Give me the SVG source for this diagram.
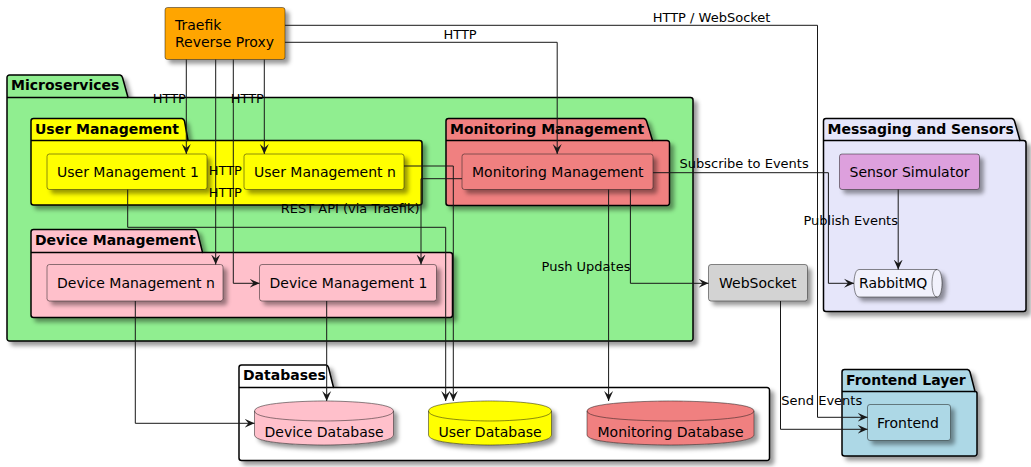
<svg xmlns="http://www.w3.org/2000/svg" width="1031" height="467" viewBox="0 0 1031 467">
<defs>
<filter id="sh" x="-0.2" y="-0.2" width="1.5" height="1.5">
<feGaussianBlur in="SourceAlpha" stdDeviation="2" result="b"/>
<feColorMatrix in="b" type="matrix" values="0 0 0 0 0  0 0 0 0 0  0 0 0 0 0  0 0 0 0.4 0" result="b2"/>
<feOffset in="b2" dx="4" dy="4" result="b3"/>
<feMerge><feMergeNode in="b3"/><feMergeNode in="SourceGraphic"/></feMerge>
</filter>
<marker id="ah" viewBox="0 0 10 10" refX="10" refY="5" markerWidth="10" markerHeight="10" markerUnits="userSpaceOnUse" orient="auto">
<path d="M0,0.5 L10,5 L0,9.5 L4,5 Z" fill="#181818"/>
</marker>
<style>
text{font-family:'DejaVu Sans','Liberation Sans',sans-serif;fill:#000}
.pkg{stroke:#000;stroke-width:1.5;filter:url(#sh)}
.pl{fill:none;stroke:#000;stroke-width:1.5}
.pt{font-size:14px;font-weight:bold}
.box{stroke:#181818;stroke-width:0.5;filter:url(#sh)}
.bt{font-size:14px}
.lt{font-size:13px}
.edge{fill:none;stroke:#181818;stroke-width:1;marker-end:url(#ah)}
.inner{fill:none;stroke:#181818;stroke-width:0.5}
</style>
</defs>
<rect width="1031" height="467" fill="#fff"/>

<g id="pkg-microservices">
<path class="pkg" fill="#90EE90" d="M9.5,75 L120,75 A3.75,3.75 0 0 1 122.5,77.5 L128,97.5 L690.5,97.5 A2.5,2.5 0 0 1 693,100 L693,338.5 A2.5,2.5 0 0 1 690.5,341 L9.5,341 A2.5,2.5 0 0 1 7,338.5 L7,77.5 A2.5,2.5 0 0 1 9.5,75 Z"/>
<path class="pl" d="M7,97.5 L128,97.5"/>
<text class="pt" x="11" y="90">Microservices</text>
</g>
<g id="pkg-user-management">
<path class="pkg" fill="#FFFF00" d="M33.5,118.5 L182,118.5 A3.75,3.75 0 0 1 184.5,121 L188,140.5 L419.5,140.5 A2.5,2.5 0 0 1 422,143 L422,202.5 A2.5,2.5 0 0 1 419.5,205 L33.5,205 A2.5,2.5 0 0 1 31,202.5 L31,121 A2.5,2.5 0 0 1 33.5,118.5 Z"/>
<path class="pl" d="M31,140.5 L188,140.5"/>
<text class="pt" x="35" y="133.5">User Management</text>
</g>
<g id="pkg-monitoring-management">
<path class="pkg" fill="#F08080" d="M448.5,118.5 L644,118.5 A3.75,3.75 0 0 1 646.5,121 L652.5,140.5 L667,140.5 A2.5,2.5 0 0 1 669.5,143 L669.5,203 A2.5,2.5 0 0 1 667,205.5 L448.5,205.5 A2.5,2.5 0 0 1 446,203 L446,121 A2.5,2.5 0 0 1 448.5,118.5 Z"/>
<path class="pl" d="M446,140.5 L652.5,140.5"/>
<text class="pt" x="450" y="133.5">Monitoring Management</text>
</g>
<g id="pkg-device-management">
<path class="pkg" fill="#FFC0CB" d="M33.5,229.5 L195,229.5 A3.75,3.75 0 0 1 197.5,232 L202.5,252.5 L450,252.5 A2.5,2.5 0 0 1 452.5,255 L452.5,315 A2.5,2.5 0 0 1 450,317.5 L33.5,317.5 A2.5,2.5 0 0 1 31,315 L31,232 A2.5,2.5 0 0 1 33.5,229.5 Z"/>
<path class="pl" d="M31,252.5 L202.5,252.5"/>
<text class="pt" x="35" y="244.5">Device Management</text>
</g>
<g id="pkg-messaging">
<path class="pkg" fill="#E6E6FA" d="M826,118.5 L1012,118.5 A3.75,3.75 0 0 1 1014.5,121 L1020,140.5 L1023.5,140.5 A2.5,2.5 0 0 1 1026,143 L1026,309 A2.5,2.5 0 0 1 1023.5,311.5 L826,311.5 A2.5,2.5 0 0 1 823.5,309 L823.5,121 A2.5,2.5 0 0 1 826,118.5 Z"/>
<path class="pl" d="M823.5,140.5 L1020,140.5"/>
<text class="pt" x="827.5" y="133.5">Messaging and Sensors</text>
</g>
<g id="pkg-databases">
<path class="pkg" fill="#FFFFFF" d="M241.5,365 L326,365 A3.75,3.75 0 0 1 328.5,367.5 L333.5,387.5 L767,387.5 A2.5,2.5 0 0 1 769.5,390 L769.5,458 A2.5,2.5 0 0 1 767,460.5 L241.5,460.5 A2.5,2.5 0 0 1 239,458 L239,367.5 A2.5,2.5 0 0 1 241.5,365 Z"/>
<path class="pl" d="M239,387.5 L333.5,387.5"/>
<text class="pt" x="243" y="379.5">Databases</text>
</g>
<g id="pkg-frontend-layer">
<path class="pkg" fill="#ADD8E6" d="M844.5,369.5 L967.5,369.5 A3.75,3.75 0 0 1 970,372 L975,391.5 A2,2 0 0 1 977,393.5 L977,453.5 A2.5,2.5 0 0 1 974.5,456 L844.5,456 A2.5,2.5 0 0 1 842,453.5 L842,372 A2.5,2.5 0 0 1 844.5,369.5 Z"/>
<path class="pl" d="M842,391.5 L975,391.5"/>
<text class="pt" x="846" y="385">Frontend Layer</text>
</g>

<g id="traefik">
<rect class="box" x="165" y="7.5" width="120" height="52" rx="2.5" fill="#FFA500"/>
<text class="bt" x="175" y="30">Traefik</text>
<text class="bt" x="175" y="46.5">Reverse Proxy</text>
</g>
<g id="user-management-1">
<rect class="box" x="47" y="154" width="160" height="35.5" rx="2.5" fill="#FFFF00"/>
<text class="bt" x="57" y="176.5">User Management 1</text>
</g>
<g id="user-management-n">
<rect class="box" x="244" y="154" width="160" height="35.5" rx="2.5" fill="#FFFF00"/>
<text class="bt" x="254" y="176.5">User Management n</text>
</g>
<g id="monitoring-management">
<rect class="box" x="462" y="154" width="191" height="35.5" rx="2.5" fill="#F08080"/>
<text class="bt" x="472" y="176.5">Monitoring Management</text>
</g>
<g id="device-management-n">
<rect class="box" x="47" y="264.5" width="176" height="36.5" rx="2.5" fill="#FFC0CB"/>
<text class="bt" x="57" y="287.5">Device Management n</text>
</g>
<g id="device-management-1">
<rect class="box" x="259.5" y="264.5" width="177" height="36.5" rx="2.5" fill="#FFC0CB"/>
<text class="bt" x="269.5" y="287.5">Device Management 1</text>
</g>
<g id="sensor-simulator">
<rect class="box" x="839.5" y="154" width="140" height="35.5" rx="2.5" fill="#DDA0DD"/>
<text class="bt" x="849.5" y="176.5">Sensor Simulator</text>
</g>
<g id="rabbitmq">
<path class="box" fill="#F1F1FC" d="M859,269.5 L937,269.5 C942,269.5 942,283.25 942,283.25 C942,283.25 942,297 937,297 L859,297 C854,297 854,283.25 854,283.25 C854,283.25 854,269.5 859,269.5 Z"/>
<path class="inner" d="M937,269.5 C932,269.5 932,283.25 932,283.25 C932,283.25 932,297 937,297"/>
<text class="bt" x="859" y="288">RabbitMQ</text>
</g>
<g id="websocket">
<rect class="box" x="708.5" y="264.5" width="99" height="36.5" rx="2.5" fill="#D3D3D3"/>
<text class="bt" x="719" y="287.5">WebSocket</text>
</g>
<g id="frontend">
<rect class="box" x="867.5" y="404.5" width="83" height="36" rx="2.5" fill="#ADD8E6"/>
<text class="bt" x="877" y="427.5">Frontend</text>
</g>
<g id="device-database">
<path class="box" fill="#FFC0CB" d="M254.5,411 C254.5,401 324,401 324,401 C324,401 393.5,401 393.5,411 L393.5,435 C393.5,445 324,445 324,445 C324,445 254.5,445 254.5,435 Z"/>
<path class="inner" d="M254.5,411 C254.5,421 324,421 324,421 C324,421 393.5,421 393.5,411"/>
<text class="bt" x="264.5" y="437">Device Database</text>
</g>
<g id="user-database">
<path class="box" fill="#FFFF00" d="M428.5,411 C428.5,401 490,401 490,401 C490,401 551.5,401 551.5,411 L551.5,435 C551.5,445 490,445 490,445 C490,445 428.5,445 428.5,435 Z"/>
<path class="inner" d="M428.5,411 C428.5,421 490,421 490,421 C490,421 551.5,421 551.5,411"/>
<text class="bt" x="438.5" y="437">User Database</text>
</g>
<g id="monitoring-database">
<path class="box" fill="#F08080" d="M587,411 C587,401 670.5,401 670.5,401 C670.5,401 754,401 754,411 L754,435 C754,445 670.5,445 670.5,445 C670.5,445 587,445 587,435 Z"/>
<path class="inner" d="M587,411 C587,421 670.5,421 670.5,421 C670.5,421 754,421 754,411"/>
<text class="bt" x="597.5" y="437">Monitoring Database</text>
</g>

<g id="connectors">
<path class="edge" d="M186.3,59.5 L186.3,154"/>
<path class="edge" d="M264.3,59.5 L264.3,154"/>
<path class="edge" d="M215.7,59.5 L215.7,264.5"/>
<path class="edge" d="M233.3,59.5 L233.3,283.3 L259.5,283.3"/>
<path class="edge" d="M285,42.3 L557.2,42.3 L557.2,154"/>
<path class="edge" d="M285,25.3 L817.5,25.3 L817.5,417.3 L867.5,417.3"/>
<path class="edge" d="M127.7,189.5 L127.7,227.3 L445.7,227.3 L445.7,401"/>
<path class="edge" d="M404,166 L453.3,166 L453.3,401"/>
<path class="edge" d="M462,178.7 L421,178.7 L421,264.5"/>
<path class="edge" d="M608.6,189.5 L608.6,401"/>
<path class="edge" d="M630.4,189.5 L630.4,283.3 L708.5,283.3"/>
<path class="edge" d="M653,172.7 L828.4,172.7 L828.4,283.3 L854,283.3"/>
<path class="edge" d="M898.2,189.5 L898.2,269.5"/>
<path class="edge" d="M780.5,301 L780.5,429.3 L867.5,429.3"/>
<path class="edge" d="M135.3,301 L135.3,423.3 L254.5,423.3"/>
<path class="edge" d="M326.7,301 L326.7,401"/>
<text class="lt" x="152.7" y="103">HTTP</text>
<text class="lt" x="230.7" y="103">HTTP</text>
<text class="lt" x="208.7" y="175">HTTP</text>
<text class="lt" x="208.7" y="197">HTTP</text>
<text class="lt" x="443.4" y="39">HTTP</text>
<text class="lt" x="652.7" y="22">HTTP / WebSocket</text>
<text class="lt" x="280.7" y="213">REST API (via Traefik)</text>
<text class="lt" x="541.6" y="271">Push Updates</text>
<text class="lt" x="679.5" y="168">Subscribe to Events</text>
<text class="lt" x="803.5" y="225">Publish Events</text>
<text class="lt" x="781.3" y="405">Send Events</text>
</g>
</svg>
